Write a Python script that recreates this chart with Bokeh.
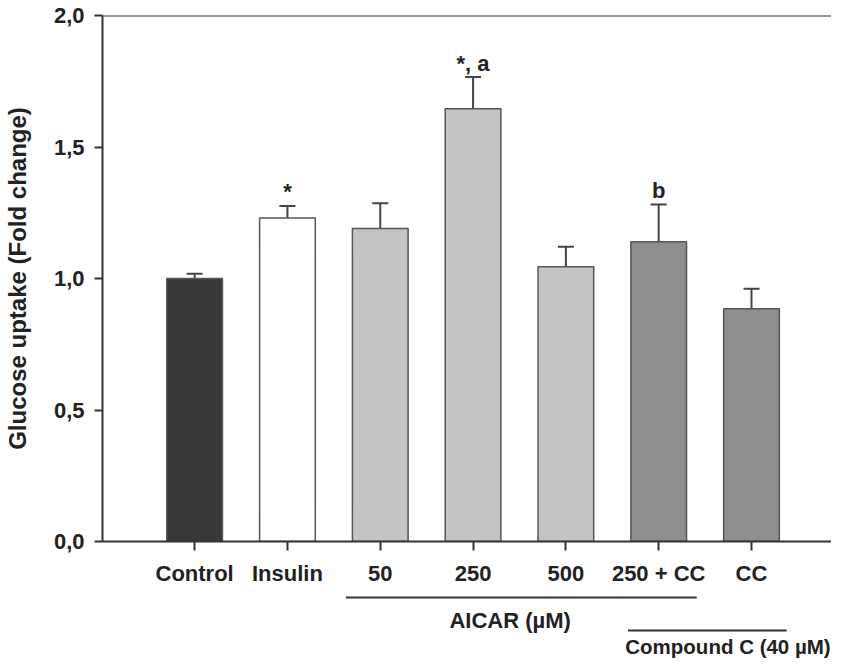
from bokeh.plotting import figure
from bokeh.models import (ColumnDataSource, Whisker, TeeHead, Span, FixedTicker, Range1d)
from bokeh.layouts import column
from bokeh.core.properties import value
from bokeh.embed import file_html
from bokeh.resources import INLINE

# ---- data ----
categories = ["Control", "Insulin", "50", "250", "500", "250 + CC", "CC"]
means = [1.00, 1.23, 1.19, 1.645, 1.045, 1.14, 0.885]
errors = [0.018, 0.046, 0.096, 0.121, 0.076, 0.141, 0.076]
marks = ["", "*", "", "*, a", "", "b", ""]
fills = ["#383838", "#ffffff", "#c4c4c4", "#c4c4c4", "#c4c4c4", "#8e8e8e", "#8e8e8e"]
y_ticks = [0.0, 0.5, 1.0, 1.5, 2.0]
y_tick_labels = ["0,0", "0,5", "1,0", "1,5", "2,0"]
group_names = ["AICAR (\u00b5M)", "Compound C (40 \u00b5M)"]
group_first = [2, 5]
group_last = [5, 6]

FONT = "Liberation Sans"
TXT = "#222222"
AX = "#333333"
W = 831

xs = list(range(len(categories)))
src = ColumnDataSource(dict(
    x=xs, top=means, upper=[m + e for m, e in zip(means, errors)],
    fill=fills, mark=marks))

xr = Range1d(-0.9925, 6.862)
p = figure(width=W, height=590, output_backend="svg", toolbar_location=None,
           x_range=xr, y_range=Range1d(0, 2.0),
           min_border_left=95, min_border_right=0, min_border_top=15,
           min_border_bottom=49)
p.outline_line_color = None
p.grid.grid_line_color = None

p.vbar(x="x", top="top", bottom=0, width=0.6, source=src, fill_color="fill",
       line_color="#555555", line_width=1.5)

w = Whisker(base="x", upper="upper", lower="top", source=src, dimension="height",
            line_color="#444444", line_width=2,
            upper_head=TeeHead(size=16, line_color="#444444", line_width=2),
            lower_head=None)
p.add_layout(w)

p.text(x="x", y="upper", text="mark", source=src, text_align="center",
       text_baseline="alphabetic", y_offset=-14, text_font=value(FONT),
       text_font_style="bold", text_font_size="22px", text_color=TXT)

# top frame line
p.add_layout(Span(location=p.y_range.end, dimension="width", line_color=AX, line_width=2))

# y axis
yax = p.yaxis[0]
yax.ticker = FixedTicker(ticks=y_ticks)
yax.major_label_overrides = {t: l for t, l in zip(y_ticks, y_tick_labels)}
yax.axis_label = "Glucose uptake (Fold change)"
yax.axis_label_text_font = FONT
yax.axis_label_text_font_style = "bold"
yax.axis_label_text_font_size = "24px"
yax.axis_label_text_color = TXT
yax.axis_label_standoff = 20
yax.major_label_text_font = FONT
yax.major_label_text_font_style = "bold"
yax.major_label_text_font_size = "22px"
yax.major_label_text_color = TXT
yax.major_label_standoff = 10
yax.major_tick_out = 8
yax.major_tick_in = 0
yax.minor_tick_out = 0
yax.minor_tick_in = 0
yax.axis_line_width = 2
yax.axis_line_color = AX
yax.major_tick_line_width = 2
yax.major_tick_line_color = AX

# x axis
xax = p.xaxis[0]
xax.ticker = FixedTicker(ticks=xs)
xax.major_label_overrides = {i: c for i, c in zip(xs, categories)}
xax.major_label_text_font = FONT
xax.major_label_text_font_style = "bold"
xax.major_label_text_font_size = "22px"
xax.major_label_text_color = TXT
xax.major_label_standoff = 10
xax.major_tick_out = 9
xax.major_tick_in = 0
xax.minor_tick_out = 0
xax.minor_tick_in = 0
xax.axis_line_width = 2
xax.axis_line_color = AX
xax.major_tick_line_width = 2
xax.major_tick_line_color = AX

# ---- group brackets strip below the axis (shares the x range) ----
H2 = 70
p2 = figure(width=W, height=H2, output_backend="svg", toolbar_location=None,
            x_range=xr, y_range=Range1d(H2, 0),
            x_axis_location=None, y_axis_location=None,
            min_border_left=95, min_border_right=0, min_border_top=0,
            min_border_bottom=0)
p2.outline_line_color = None
p2.grid.grid_line_color = None

line_y = [7, 40]
text_y = [30, 56]
pad_l = [0.37, 0.33]
pad_r = [0.41, 0.38]
p2.segment(x0=[a - pl for a, pl in zip(group_first, pad_l)], y0=line_y,
           x1=[b + pr for b, pr in zip(group_last, pad_r)], y1=line_y,
           line_color=AX, line_width=2)
p2.text(x=[(group_first[0] + group_last[0]) / 2 - 0.1], y=[text_y[0]],
        text=[group_names[0]], text_align="center", text_baseline="middle",
        text_font=value(FONT), text_font_style="bold", text_font_size="22px",
        text_color=TXT)
p2.text(x=[group_first[1] - 0.36], y=[text_y[1]], text=[group_names[1]],
        text_align="left", text_baseline="middle",
        text_font=value(FONT), text_font_style="bold", text_font_size="20.5px",
        text_color=TXT)

layout = column(p, p2, spacing=0)
open("out.html", "w").write(file_html(layout, INLINE))
